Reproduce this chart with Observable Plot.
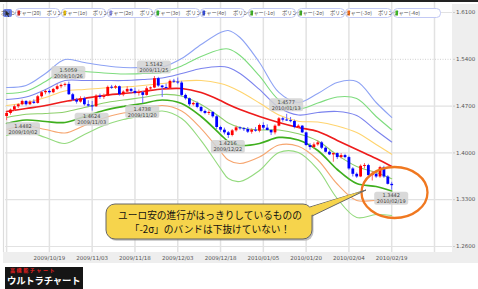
<!DOCTYPE html>
<html lang="ja">
<head>
<meta charset="utf-8">
<script src="https://cdn.jsdelivr.net/npm/d3@7"></script>
<script src="https://cdn.jsdelivr.net/npm/@observablehq/plot@0.6"></script>
<style>
  html, body { margin:0; padding:0; background:#fff; }
  #wrap { position:relative; width:478px; height:289px; overflow:hidden; background:#fff; }
  #topline { position:absolute; left:0; top:0; width:478px; height:2px; background:#222; }
  #chart { position:absolute; left:0; top:2px; }
  #logo { position:absolute; left:5px; top:267px; width:78px; height:22px; background:#151515; overflow:hidden; }
  #logo .sub { position:absolute; left:5px; top:0px; font: bold 5px/6px "Noto Sans CJK JP"; color:#e82020; letter-spacing:1.6px; white-space:nowrap; }
  #logo .main { position:absolute; left:2px; top:7.5px; font: bold 9.4px/11px "Noto Sans CJK JP"; color:#fff; letter-spacing:-0.2px; white-space:nowrap; }
</style>
</head>
<body>
<div id="wrap">
  <div id="topline"></div>
  <div id="chart"></div>
  <div id="logo"><div class="sub">高機能チャート</div><div class="main">ウルトラチャート</div></div>
</div>
<script>
// ---- daily candles (index 0 = 2009/10/02 ... index 99 = 2010/02/19) ----
const openP = [1.4545,1.4590,1.4640,1.4690,1.4720,1.4770,1.4720,1.4760,1.4740,1.4840,
1.4900,1.4920,1.4900,1.4950,1.4990,1.5010,1.5025,1.4870,1.4790,1.4760,
1.4810,1.4720,1.4700,1.4690,1.4850,1.4830,1.4850,1.4980,1.4970,1.4990,
1.4870,1.4910,1.4950,1.4920,1.4890,1.4900,1.4860,1.4960,1.4970,1.5110,
1.5000,1.4975,1.4965,1.5070,1.5060,1.5045,1.4860,1.4810,1.4720,1.4740,
1.4680,1.4620,1.4590,1.4605,1.4540,1.4380,1.4340,1.4300,1.4260,1.4330,
1.4375,1.4360,1.4350,1.4310,1.4340,1.4325,1.4410,1.4370,1.4335,1.4300,
1.4400,1.4510,1.4490,1.4480,1.4470,1.4380,1.4400,1.4300,1.4110,1.4080,
1.4120,1.4150,1.4070,1.4010,1.3970,1.3990,1.3930,1.3960,1.3930,1.3760,
1.3680,1.3640,1.3800,1.3810,1.3660,1.3680,1.3640,1.3780,1.3640,1.3530];
const highP = [1.4610,1.4655,1.4715,1.4735,1.4790,1.4780,1.4780,1.4795,1.4860,1.4920,
1.4935,1.4945,1.4965,1.5020,1.5030,1.5045,1.5059,1.4890,1.4815,1.4840,
1.4835,1.4780,1.4770,1.4870,1.4880,1.4880,1.5000,1.5010,1.5010,1.5000,
1.4930,1.4990,1.4965,1.4970,1.4940,1.4920,1.4990,1.4985,1.5142,1.5130,
1.5010,1.5030,1.5090,1.5100,1.5120,1.5070,1.4880,1.4820,1.4760,1.4760,
1.4700,1.4640,1.4630,1.4620,1.4560,1.4400,1.4370,1.4320,1.4350,1.4400,
1.4390,1.4380,1.4380,1.4360,1.4380,1.4430,1.4450,1.4420,1.4350,1.4420,
1.4530,1.4530,1.4577,1.4530,1.4490,1.4420,1.4410,1.4310,1.4140,1.4150,
1.4180,1.4170,1.4090,1.4030,1.4000,1.4000,1.3990,1.3980,1.3950,1.3780,
1.3700,1.3820,1.3840,1.3830,1.3720,1.3700,1.3800,1.3800,1.3660,1.3560];
const lowP = [1.4482,1.4565,1.4620,1.4665,1.4705,1.4700,1.4710,1.4725,1.4730,1.4820,
1.4870,1.4880,1.4885,1.4935,1.4960,1.4985,1.4860,1.4770,1.4730,1.4745,
1.4700,1.4680,1.4624,1.4680,1.4800,1.4800,1.4840,1.4950,1.4950,1.4850,
1.4840,1.4890,1.4880,1.4870,1.4850,1.4738,1.4850,1.4930,1.4960,1.4980,
1.4830,1.4950,1.4955,1.5040,1.5020,1.4840,1.4790,1.4690,1.4700,1.4660,
1.4600,1.4570,1.4560,1.4520,1.4350,1.4310,1.4270,1.4216,1.4240,1.4310,
1.4340,1.4320,1.4290,1.4280,1.4310,1.4300,1.4340,1.4330,1.4260,1.4270,
1.4390,1.4460,1.4470,1.4450,1.4360,1.4370,1.4290,1.4100,1.4040,1.4060,
1.4100,1.4050,1.4000,1.3960,1.3860,1.3900,1.3910,1.3910,1.3740,1.3640,
1.3620,1.3630,1.3760,1.3650,1.3580,1.3620,1.3620,1.3620,1.3520,1.3442];
const closeP = [1.4590,1.4640,1.4690,1.4720,1.4770,1.4720,1.4760,1.4740,1.4840,1.4900,
1.4920,1.4900,1.4950,1.4990,1.5010,1.5025,1.4870,1.4790,1.4760,1.4810,
1.4720,1.4700,1.4690,1.4850,1.4830,1.4850,1.4980,1.4970,1.4990,1.4870,
1.4910,1.4950,1.4920,1.4890,1.4900,1.4860,1.4960,1.4970,1.5110,1.5000,
1.4975,1.4965,1.5070,1.5060,1.5045,1.4860,1.4810,1.4720,1.4740,1.4680,
1.4620,1.4590,1.4605,1.4540,1.4380,1.4340,1.4300,1.4260,1.4330,1.4375,
1.4360,1.4350,1.4310,1.4340,1.4325,1.4410,1.4370,1.4335,1.4300,1.4400,
1.4510,1.4490,1.4480,1.4470,1.4380,1.4400,1.4300,1.4110,1.4080,1.4120,
1.4150,1.4070,1.4010,1.3970,1.3990,1.3930,1.3960,1.3930,1.3760,1.3680,
1.3640,1.3800,1.3810,1.3660,1.3680,1.3640,1.3780,1.3640,1.3530,1.3510];

// ---- Bollinger bands read at sample bars ----
const bandIdx = [0,5,10,15,20,25,30,35,40,45,50,55,57,60,65,70,75,80,85,90,95,99];
const ma20 = [1.4619,1.4664,1.4709,1.4769,1.4814,1.4859,1.4888,1.4918,1.4956,1.4963,1.4903,1.4784,1.4724,1.4649,1.4545,1.4455,1.4380,1.4320,1.4186,1.4051,1.3916,1.3797];
const bbP1 = [1.4709,1.4750,1.4829,1.4926,1.4949,1.4971,1.4985,1.5008,1.5038,1.5075,1.5083,1.5038,1.5001,1.4918,1.4747,1.4567,1.4474,1.4462,1.4403,1.4305,1.4125,1.3980];
const bbP2 = [1.4798,1.4836,1.4948,1.5083,1.5083,1.5083,1.5082,1.5097,1.5121,1.5187,1.5262,1.5293,1.5277,1.5187,1.4949,1.4679,1.4567,1.4604,1.4620,1.4560,1.4335,1.4163];
const bbP3 = [1.4888,1.4922,1.5068,1.5240,1.5218,1.5196,1.5180,1.5187,1.5203,1.5300,1.5442,1.5547,1.5554,1.5457,1.5151,1.4792,1.4661,1.4746,1.4837,1.4814,1.4544,1.4347];
const bbP4 = [1.4978,1.5008,1.5188,1.5397,1.5352,1.5308,1.5277,1.5277,1.5285,1.5412,1.5621,1.5801,1.5831,1.5726,1.5353,1.4904,1.4754,1.4888,1.5054,1.5068,1.4754,1.4530];
const bbM1 = [1.4529,1.4578,1.4589,1.4612,1.4679,1.4747,1.4791,1.4828,1.4874,1.4851,1.4723,1.4530,1.4447,1.4380,1.4343,1.4343,1.4286,1.4178,1.3969,1.3797,1.3707,1.3614];
const bbM2 = [1.4440,1.4492,1.4470,1.4455,1.4545,1.4635,1.4694,1.4739,1.4791,1.4739,1.4544,1.4275,1.4171,1.4111,1.4141,1.4231,1.4193,1.4036,1.3752,1.3542,1.3497,1.3431];
const bbM3 = [1.4350,1.4406,1.4350,1.4298,1.4410,1.4522,1.4596,1.4649,1.4709,1.4626,1.4364,1.4021,1.3894,1.3841,1.3939,1.4118,1.4099,1.3894,1.3535,1.3288,1.3288,1.3247];
const bbM4 = [1.4260,1.4320,1.4230,1.4141,1.4276,1.4410,1.4499,1.4559,1.4627,1.4514,1.4185,1.3767,1.3617,1.3572,1.3737,1.4006,1.4006,1.3752,1.3318,1.3034,1.3078,1.3064];

// ---- axes ----
const gridIdx = [0,11,22,33,44,55,66,77,88,99,110];
const tickIdx = [11,22,33,44,55,66,77,88,99];
const tickLabels = ["2009/10/19","2009/11/03","2009/11/18","2009/12/03","2009/12/18","2010/01/05","2010/01/20","2010/02/04","2010/02/19"];
const yTicks = [1.26,1.33,1.40,1.47,1.54,1.61];

// ---- high / low markers ----
const markIdx = [0,16,22,35,38,57,72,99];
const markVal = [1.4482,1.5059,1.4624,1.4738,1.5142,1.4216,1.4577,1.3442];
const markDate = ["2009/10/02","2009/10/26","2009/11/03","2009/11/20","2009/11/25","2009/12/22","2010/01/13","2010/02/19"];
const markSide = ["low","high","low","low","high","low","high","low"];

// ---- legend ----
const legendNames = ["ボリンジャー(20)","ボリンジャー(1σ)","ボリンジャー(2σ)","ボリンジャー(3σ)","ボリンジャー(4σ)","ボリンジャー(-1σ)","ボリンジャー(-2σ)","ボリンジャー(-3σ)","ボリンジャー(-4σ)"];

// ---- annotation ----
const calloutLines = ["ユーロ安の進行がはっきりしているものの","「-2σ」のバンドは下抜けていない！"];

// ================= drawing =================
const legendColors = ["#e81818","#f2c400","#8a8ef0","#2cbc2c","#2f48e8","#3cbc1c","#3cb41c","#ff6a10","#3cc41c"];
const legendX = [15,61,107,154,200,248,297,345,393];
const legendW = [45,45,46,46,45,48,48,47,48];

const bandStyle = [
  {vals: bbP4, stroke:"#8ea3f4", w:1.1},
  {vals: bbP3, stroke:"#7edc7e", w:1.1},
  {vals: bbP2, stroke:"#7b83ee", w:1.1},
  {vals: bbP1, stroke:"#ffd46e", w:1.1},
  {vals: bbM4, stroke:"#94da7e", w:1.1},
  {vals: bbM3, stroke:"#f6a670", w:1.1},
  {vals: bbM1, stroke:"#8ccf6a", w:1.1},
  {vals: bbM2, stroke:"#3faf1e", w:1.7},
  {vals: ma20, stroke:"#ee1c1c", w:1.7}
];

const candles = closeP.map((c, i) => ({i, o: openP[i], h: highP[i], l: lowP[i], c}));
const ups = candles.filter(d => d.c >= d.o);
const downs = candles.filter(d => d.c < d.o);
const minBody = 0.0015;
const bodyHi = d => Math.abs(d.c - d.o) < minBody ? (d.c + d.o) / 2 + minBody / 2 : Math.max(d.c, d.o);
const bodyLo = d => Math.abs(d.c - d.o) < minBody ? (d.c + d.o) / 2 - minBody / 2 : Math.min(d.c, d.o);
const labelOf = new Map(tickIdx.map((d, k) => [d, tickLabels[k]]));

const W = 478, H = 261;
const plot = Plot.plot({
  width: W, height: H,
  marginLeft: 5, marginRight: 26, marginTop: 0, marginBottom: 11,
  x: {domain: [-0.283, 114.63], axis: null},
  y: {domain: [1.25104, 1.62496], axis: null},
  style: {background: "transparent", fontFamily: "DejaVu Sans", overflow: "visible"},
  marks: [
    Plot.gridX(gridIdx, {stroke: "#e2e2e2", strokeOpacity: 1, strokeWidth: 1.5}),
    Plot.gridY(yTicks.filter(v => v !== 1.54), {stroke: "#e2e2e2", strokeOpacity: 1, strokeWidth: 1.2}),
    Plot.gridY([1.54], {stroke: "#cfcfcf", strokeOpacity: 1, strokeWidth: 1, strokeDasharray: "1,1.5"}),
    ...bandStyle.map(b => Plot.line(bandIdx.map((x, k) => ({x, y: b.vals[k]})),
      {x: "x", y: "y", stroke: b.stroke, strokeWidth: b.w, curve: "catmull-rom"})),
    Plot.ruleX(ups, {x: "i", y1: "l", y2: "h", stroke: "#ff6060", strokeWidth: 1}),
    Plot.ruleX(downs, {x: "i", y1: "l", y2: "h", stroke: "#6a6aff", strokeWidth: 1}),
    Plot.ruleX(ups, {x: "i", y1: bodyLo, y2: bodyHi, stroke: "#ff0000", strokeWidth: 2.8}),
    Plot.ruleX(downs, {x: "i", y1: bodyLo, y2: bodyHi, stroke: "#0000ff", strokeWidth: 2.8}),
    Plot.axisX(tickIdx, {anchor: "bottom", tickSize: 0, tickPadding: 4, fontSize: 5.5, fill: "#555",
      tickFormat: d => labelOf.get(d)}),
    Plot.axisY(yTicks, {anchor: "right", tickSize: 2, tickPadding: 1.5, fontSize: 5.5, fill: "#555", stroke: "#cccccc",
      tickFormat: d => d.toFixed(4)})
  ]
});
document.getElementById("chart").appendChild(plot);

const svg = d3.select(plot);
const xs = plot.scale("x"), ys = plot.scale("y");

// background panels (behind everything)
const bg = svg.insert("g", ":first-child");
bg.append("rect").attr("x", 452).attr("y", 2).attr("width", 26).attr("height", 259).attr("fill", "#eeeeee");
bg.append("rect").attr("x", 3).attr("y", 250).attr("width", 449).attr("height", 11).attr("fill", "#eeeeee");
bg.append("line").attr("x1", 3.5).attr("x2", 3.5).attr("y1", 2).attr("y2", 250).attr("stroke", "#dddddd").attr("stroke-width", 1.2);

const ann = svg.append("g");

// high/low marker labels
markIdx.forEach((idx, k) => {
  let cx = xs.apply(idx);
  const bw = 34, bh = 13;
  cx = Math.max(6 + bw / 2, Math.min(450 - bw / 2, cx));
  const cy = ys.apply(markVal[k]) + (markSide[k] === "high" ? -9 : 8.5);
  const g = ann.append("g");
  g.append("rect").attr("x", cx - bw / 2).attr("y", cy - bh / 2).attr("width", bw).attr("height", bh)
    .attr("rx", 2.5).attr("fill", "#d2d2d2").attr("fill-opacity", 0.85);
  g.append("text").attr("x", cx).attr("y", cy - 1).attr("text-anchor", "middle")
    .attr("font-family", "DejaVu Sans").attr("font-size", 5).attr("fill", "#444").text(markVal[k].toFixed(4));
  g.append("text").attr("x", cx).attr("y", cy + 5).attr("text-anchor", "middle")
    .attr("font-family", "DejaVu Sans").attr("font-size", 5).attr("fill", "#444").text(markDate[k]);
});

// orange ellipse
ann.append("ellipse").attr("cx", 394.5).attr("cy", 190.5).attr("rx", 33).attr("ry", 25.5)
  .attr("fill", "none").attr("stroke", "#f07820").attr("stroke-width", 2.3);

// callout bubble
const bx = 106, by = 202, bwid = 206, bht = 35;
const tail = [[bx + bwid - 2, by + 3], [366, 188], [bx + bwid - 2, by + 13]];
ann.append("rect").attr("x", bx + 1.5).attr("y", by + 1.8).attr("width", bwid).attr("height", bht).attr("rx", 9)
  .attr("fill", "#9a9a9a").attr("fill-opacity", 0.6);
ann.append("path").attr("d", d3.line()(tail) + "Z").attr("fill", "#f6d44c").attr("stroke", "#666").attr("stroke-width", 1);
ann.append("rect").attr("x", bx).attr("y", by).attr("width", bwid).attr("height", bht).attr("rx", 9)
  .attr("fill", "#f6d44c").attr("stroke", "#666").attr("stroke-width", 1);
ann.append("path").attr("d", d3.line()([[bx + bwid - 3, by + 3.8], [360, 189.5], [bx + bwid - 3, by + 12.2]]) + "Z").attr("fill", "#f6d44c");
calloutLines.forEach((t, k) => {
  ann.append("text").attr("x", bx + bwid / 2 + 1).attr("y", by + 15 + k * 14).attr("text-anchor", "middle")
    .attr("font-family", "Noto Sans CJK JP").attr("font-size", 9.7).attr("fill", "#111").text(t);
});

// legend
const lg = svg.append("g");
const icon = lg.append("g");
icon.append("rect").attr("x", 3).attr("y", 7).attr("width", 9).attr("height", 8).attr("rx", 2).attr("fill", "#6b7fe4");
icon.append("path").attr("d", "M5.5,8.5 L5.5,14 L7,12.6 L8.2,15 L9,14.6 L7.9,12.3 L9.8,12.2 Z").attr("fill", "#222");
legendNames.forEach((name, k) => {
  const x = legendX[k], w = legendW[k];
  lg.append("rect").attr("x", x + 0.5).attr("y", 6.5).attr("width", w - 1).attr("height", 9).attr("rx", 4)
    .attr("fill", "#fff").attr("stroke", "#c2c9f4").attr("stroke-width", 1);
  lg.append("rect").attr("x", x + 2.5).attr("y", 8.5).attr("width", 2.5).attr("height", 5).attr("fill", legendColors[k]);
  lg.append("text").attr("x", x + 6).attr("y", 12.9).attr("font-family", "Noto Sans CJK JP").attr("font-size", 5.2)
    .attr("fill", "#555").text(name);
});
</script>
</body>
</html>
